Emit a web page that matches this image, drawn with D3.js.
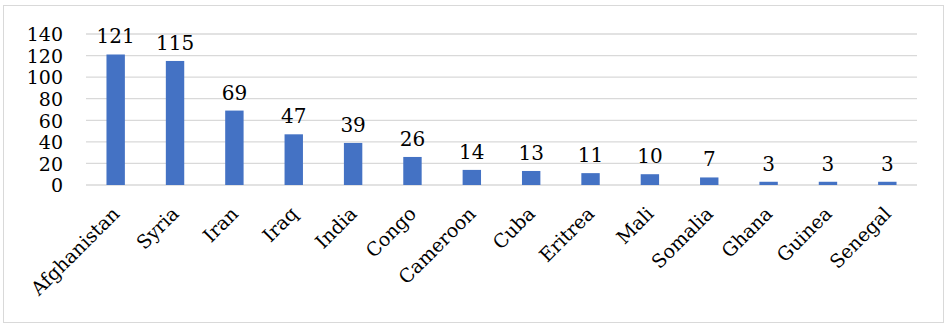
<!DOCTYPE html>
<html><head><meta charset="utf-8">
<script src="https://cdn.jsdelivr.net/npm/d3@7"></script>
<style>body{margin:0;background:#fff}svg{display:block}</style>
</head><body><svg id="c" width="945" height="325"></svg>
<script>
const categories = ["Afghanistan","Syria","Iran","Iraq","India","Congo","Cameroon","Cuba","Eritrea","Mali","Somalia","Ghana","Guinea","Senegal"];
const values = [121,115,69,47,39,26,14,13,11,10,7,3,3,3];
const yTicks = [0,20,40,60,80,100,120,140];

const svg = d3.select("#c");
const font = "'DejaVu Serif', serif";
svg.append("rect").attr("x",3.5).attr("y",5.5).attr("width",940).attr("height",317)
  .attr("fill","#fff").attr("stroke","#d9d9d9").attr("stroke-width",1);

const x = d3.scaleBand().domain(categories).range([86,917]).paddingInner(0.69).paddingOuter(0.345);
const y = d3.scaleLinear().domain([0,140]).range([185,34]);

const grid = svg.append("g");
grid.selectAll("line").data(yTicks).join("line")
  .attr("x1",86).attr("x2",917).attr("y1",d=>y(d)).attr("y2",d=>y(d))
  .attr("stroke","#d9d9d9").attr("stroke-width",1.3);

const yAxis = svg.append("g").attr("transform","translate(63,0)")
  .call(d3.axisLeft(y).tickValues(yTicks).tickSize(0).tickPadding(0));
yAxis.select(".domain").remove();
yAxis.selectAll("text").attr("font-family",font).attr("font-size",19).attr("fill","#000").attr("dy","0.36em");

svg.append("g").selectAll("rect").data(values).join("rect")
  .attr("x",(d,i)=>x(categories[i])).attr("width",x.bandwidth())
  .attr("y",d=>y(d)).attr("height",d=>y(0)-y(d)).attr("fill","#4472C4");

svg.append("g").selectAll("text").data(values).join("text")
  .attr("x",(d,i)=>x(categories[i])+x.bandwidth()/2).attr("y",d=>y(d)-11)
  .attr("text-anchor","middle").attr("font-family",font).attr("font-size",20).attr("fill","#000")
  .text(d=>d);

const xAxis = svg.append("g").attr("transform","translate(0,185)")
  .call(d3.axisBottom(x).tickSize(0).tickPadding(0));
xAxis.select(".domain").remove();
xAxis.selectAll("text").attr("font-family",font).attr("font-size",19).attr("fill","#000")
  .attr("text-anchor","end").attr("dy",0).attr("y",0)
  .attr("transform","translate(5,30) rotate(-45)");
</script></body></html>
